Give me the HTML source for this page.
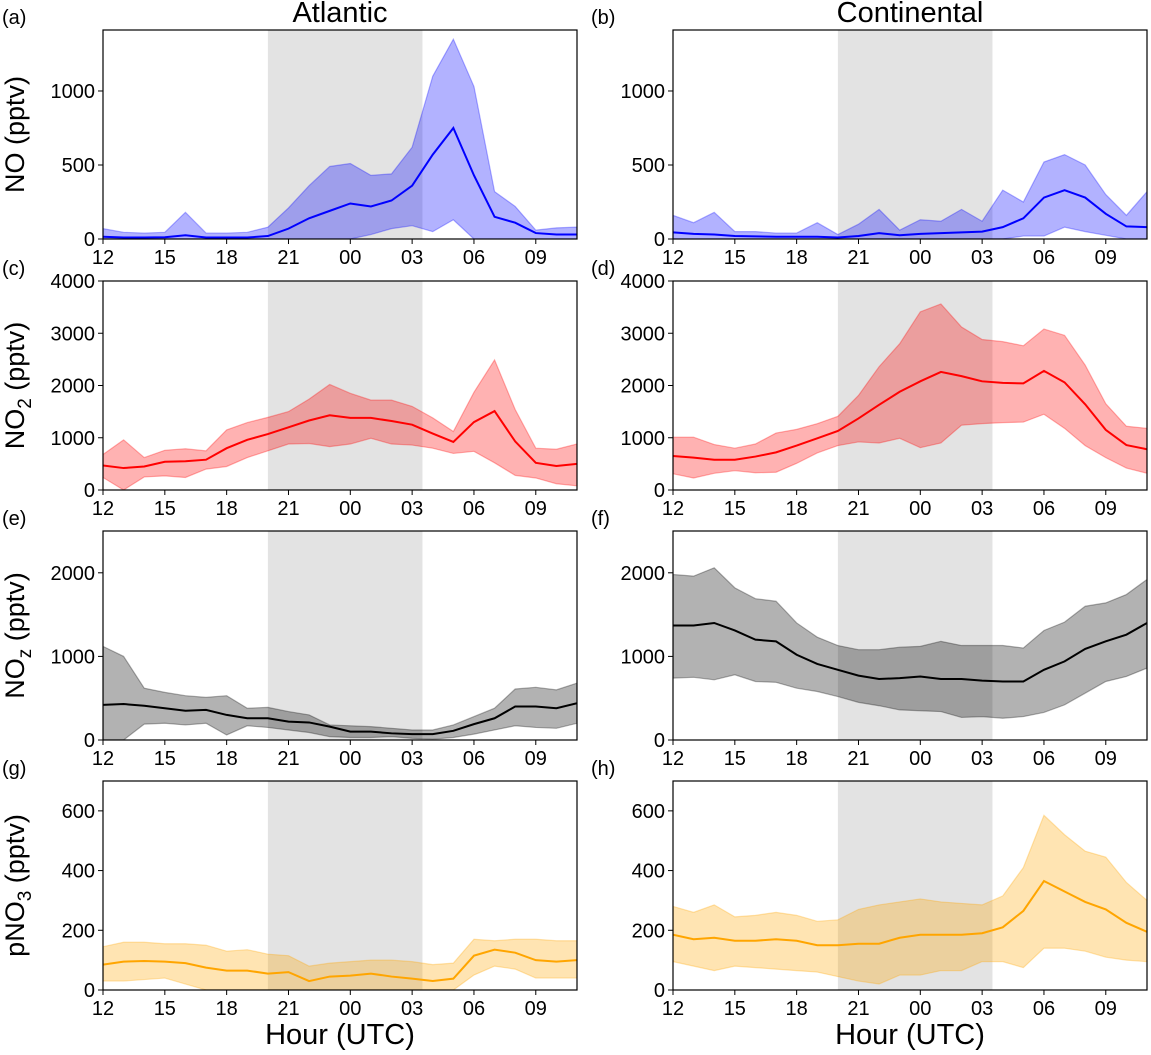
<!DOCTYPE html>
<html><head><meta charset="utf-8"><style>
html,body{margin:0;padding:0;background:#fff}
svg{display:block;font-family:"Liberation Sans",sans-serif}
</style></head><body>
<svg id="fig" width="1151" height="1055" xmlns="http://www.w3.org/2000/svg"></svg>
<script>
const hours = [12,13,14,15,16,17,18,19,20,21,22,23,24,25,26,27,28,29,30,31,32,33,34,35];
const xTickHours = [12,15,18,21,24,27,30,33];
const xTickLabels = ["12","15","18","21","00","03","06","09"];
const nightStart = 20, nightEnd = 27.5;

const aMean = [15,10,10,12,25,10,10,10,20,70,140,190,240,220,260,360,570,750,430,150,110,40,30,30];
const aUp   = [70,45,40,45,180,40,40,45,80,210,360,490,510,430,440,620,1100,1350,1030,320,220,60,75,80];
const aLo   = [0,0,0,0,0,0,0,0,0,0,0,0,0,30,70,90,50,130,0,0,0,0,0,0];
const bMean = [45,35,30,20,18,15,15,15,10,20,40,25,35,40,45,50,80,140,280,330,280,170,85,80];
const bUp   = [160,110,180,50,50,40,40,110,30,100,200,60,130,120,200,120,330,250,520,570,500,300,160,320];
const bLo   = [0,0,0,0,0,0,0,0,0,0,0,0,0,0,0,0,0,20,20,80,50,25,0,0];
const cMean = [470,420,450,540,550,580,800,960,1070,1200,1330,1430,1380,1380,1320,1250,1080,920,1300,1510,930,520,460,500];
const cUp   = [680,960,620,760,790,750,1150,1290,1390,1500,1740,2020,1850,1720,1720,1600,1380,1120,1870,2490,1540,800,780,880];
const cLo   = [240,0,250,270,240,400,450,620,750,880,890,830,880,990,880,860,800,700,740,520,280,230,120,80];
const dMean = [650,620,580,580,640,720,850,990,1130,1370,1630,1880,2080,2260,2180,2080,2050,2040,2280,2060,1640,1150,860,780];
const dUp   = [1010,1010,870,800,880,1090,1160,1270,1410,1810,2360,2800,3410,3560,3120,2880,2840,2760,3080,2960,2390,1650,1220,1180];
const dLo   = [310,230,320,370,330,340,510,710,850,920,900,990,810,900,1240,1270,1290,1300,1450,1180,850,620,420,320];
const eMean = [420,430,410,380,350,360,300,260,260,220,210,160,100,100,80,70,70,110,190,260,400,400,380,440];
const eUp   = [1120,1000,620,570,530,510,530,380,390,340,300,180,170,160,140,120,120,180,280,380,610,630,600,680];
const eLo   = [0,0,190,200,180,200,60,170,150,120,90,40,30,30,40,20,10,30,70,120,170,150,140,200];
const fMean = [1370,1370,1400,1310,1200,1180,1020,910,840,770,730,740,760,730,730,710,700,700,840,940,1090,1180,1260,1400];
const fUp   = [1980,1960,2060,1820,1690,1660,1400,1230,1130,1080,1080,1110,1120,1180,1130,1130,1130,1100,1310,1410,1600,1640,1740,1920];
const fLo   = [740,750,720,780,700,690,620,580,520,450,410,360,350,340,270,280,260,280,330,420,560,700,760,860];
const gMean = [85,95,97,95,90,75,65,65,55,60,30,45,48,55,45,38,30,38,115,135,125,100,95,100];
const gUp   = [145,160,160,155,155,150,130,135,120,115,80,90,95,100,100,95,85,90,170,165,170,170,165,165];
const gLo   = [30,30,35,40,20,0,0,0,0,0,0,0,0,0,0,0,0,0,50,80,70,40,40,40];
const hMean = [185,170,175,165,165,170,165,150,150,155,155,175,185,185,185,190,210,265,365,330,295,270,225,195];
const hUp   = [280,260,285,245,250,260,250,230,235,270,285,295,305,295,290,285,315,410,585,520,465,445,360,300];
const hLo   = [95,80,65,80,75,70,65,60,45,30,20,50,50,65,65,95,95,75,140,140,130,110,100,95];

const NS="http://www.w3.org/2000/svg";
const svg=document.getElementById('fig');
function mk(tag,attrs,parent){const e=document.createElementNS(NS,tag);for(const k in attrs)e.setAttribute(k,attrs[k]);(parent||svg).appendChild(e);return e;}

const rows=[
 {top:30,ymax:1412,ticks:[0,500,1000],label:'NO',sub:''},
 {top:281,ymax:4000,ticks:[0,1000,2000,3000,4000],label:'NO',sub:'2'},
 {top:531,ymax:2500,ticks:[0,1000,2000],label:'NO',sub:'z'},
 {top:781,ymax:700,ticks:[0,200,400,600],label:'pNO',sub:'3'}
];
const cols=[{left:103,lab:2},{left:673,lab:591}];
const W=474,H=209;
const panels=[
 [aMean,aUp,aLo,'#0000ff','rgba(0,0,255,0.3)','(a)','no-atlantic'],
 [bMean,bUp,bLo,'#0000ff','rgba(0,0,255,0.3)','(b)','no-continental'],
 [cMean,cUp,cLo,'#ff0000','rgba(255,0,0,0.3)','(c)','no2-atlantic'],
 [dMean,dUp,dLo,'#ff0000','rgba(255,0,0,0.3)','(d)','no2-continental'],
 [eMean,eUp,eLo,'#000000','rgba(0,0,0,0.3)','(e)','noz-atlantic'],
 [fMean,fUp,fLo,'#000000','rgba(0,0,0,0.3)','(f)','noz-continental'],
 [gMean,gUp,gLo,'#ffa500','rgba(255,165,0,0.3)','(g)','pno3-atlantic'],
 [hMean,hUp,hLo,'#ffa500','rgba(255,165,0,0.3)','(h)','pno3-continental']
];

panels.forEach((p,i)=>{
  const r=rows[Math.floor(i/2)], c=cols[i%2];
  const X=h=>c.left+(h-12)/23*W;
  const Y=v=>r.top+H-(v/r.ymax)*H;
  const g=mk('g',{});
  
  
  const cid='clip'+i;
  const cp=mk('clipPath',{id:cid},g); mk('rect',{x:c.left,y:r.top,width:W,height:H},cp);
  const night=mk('rect',{x:X(nightStart),y:r.top,width:X(nightEnd)-X(nightStart),height:H,fill:'rgba(128,128,128,0.22)'},g);
  
  
  let d='M'+hours.map((h,k)=>X(h)+','+Y(p[1][k])).join('L');
  for(let k=hours.length-1;k>=0;k--) d+='L'+X(hours[k])+','+Y(p[2][k]);
  const band=mk('path',{d:d+'Z',fill:p[4],stroke:p[3],'stroke-opacity':0.3,'stroke-width':1.2,'clip-path':'url(#'+cid+')'},g);
  
  
  const line=mk('polyline',{points:hours.map((h,k)=>X(h)+','+Y(p[0][k])).join(' '),fill:'none',stroke:p[3],'stroke-width':2,'clip-path':'url(#'+cid+')'},g);
  
  
  const fr=mk('rect',{x:c.left,y:r.top,width:W,height:H,fill:'none',stroke:'#000','stroke-width':1.2},g);
  
  
  xTickHours.forEach((h,k)=>{
    mk('line',{x1:X(h),x2:X(h),y1:r.top+H,y2:r.top+H+5,stroke:'#000','stroke-width':1},g);
    const t=mk('text',{x:X(h),y:r.top+H+25,'font-size':20,'text-anchor':'middle'},g);
    t.textContent=xTickLabels[k];
    
    
  });
  r.ticks.forEach(v=>{
    mk('line',{x1:c.left-5,x2:c.left,y1:Y(v),y2:Y(v),stroke:'#000','stroke-width':1},g);
    const t=mk('text',{x:c.left-8,y:Y(v)+7,'font-size':20,'text-anchor':'end'},g);
    t.textContent=v;
    
    
  });
  const pl=mk('text',{x:c.lab,y:r.top-6,'font-size':20},g);
  pl.textContent=p[5];
  
  
  if(i%2===0){
    const yl=mk('text',{x:0,y:0,'font-size':27,'text-anchor':'middle',transform:'translate(24,'+(r.top+H/2)+') rotate(-90)'},g);
    
    
    const t1=mk('tspan',{},yl); t1.textContent=r.label;
    if(r.sub){const t2=mk('tspan',{'font-size':19,dy:7},yl); t2.textContent=r.sub; const t3=mk('tspan',{dy:-7},yl); t3.textContent=' (pptv)';}
    else {const t3=mk('tspan',{},yl); t3.textContent=' (pptv)';}
  }
});
[['Atlantic',340,'title-atlantic'],['Continental',910,'title-continental']].forEach(a=>{
  const t=mk('text',{x:a[1],y:22,'font-size':29,'text-anchor':'middle'});t.textContent=a[0];
  
  
});
[340,910].forEach(x=>{
  const t=mk('text',{x:x,y:1044,'font-size':29,'text-anchor':'middle'});t.textContent='Hour (UTC)';
  
  
});
</script>
</body></html>
